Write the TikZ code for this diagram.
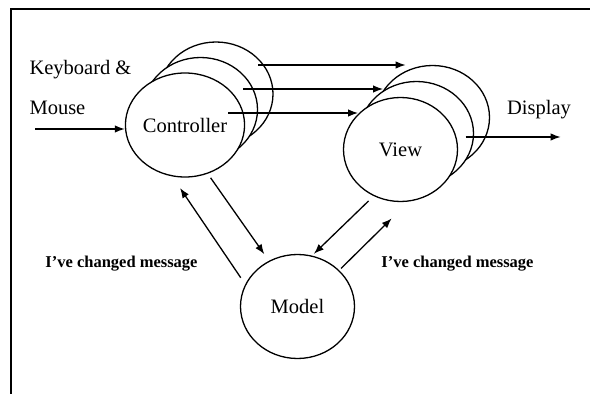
\documentclass[tikz,border=0pt]{standalone}
\usepackage{fontspec}
\setmainfont{Liberation Serif}
\usetikzlibrary{shapes.geometric}
\usetikzlibrary{arrows.meta}

\begin{document}
\begin{tikzpicture}[x=1pt,y=1pt,
  part/.style={ellipse,draw,line width=1.3pt,fill=white,minimum width=114pt,minimum height=104pt,inner sep=0pt},
  msg/.style={-{Latex[length=10pt,width=7.5pt]},line width=1.3pt},
  note/.style={font=\fontsize{16.5}{20}\selectfont\bfseries},
  every node/.style={font=\fontsize{20.5}{24}\selectfont}]

\useasboundingbox (0,0) rectangle (590,394);

\draw[line width=1.4pt] (11,0) -- (11,385) -- (590,385);

\node[part] (ctrl3) at (216,300) {};
\node[part] (ctrl2) at (200.5,284.5) {};
\node[part] (ctrl) at (185,269) {Controller};

\node[part] (view3) at (432.5,276.5) {};
\node[part] (view2) at (416.5,260.5) {};
\node[part] (view) at (400.5,244.5) {View};

\node[part] (model) at (297.5,87.5) {\raisebox{-5pt}{Model}};

\node[anchor=west] (keys) at (26,324) {Keyboard \&};
\node[anchor=west] (mouse) at (26,286) {Mouse};
\node (display) at (539,284) {Display};

\coordinate (input) at (35,265);
\draw[msg] (input) -- (input -| ctrl.west);

\coordinate (out1) at ([yshift=44.5pt]ctrl2.east);
\coordinate (out2) at ([shift={(-2pt,36pt)}]ctrl.east);
\coordinate (out3) at ([shift={(-17pt,12pt)}]ctrl.east);
\draw[msg] (out1) -- (out1 -| view3.120);
\draw[msg] (out2) -- (out2 -| view2.128);
\draw[msg] (out3) -- (out3 -| view.140);

\coordinate (screen) at ([shift={(-8.5pt,-3.5pt)}]view2.east);
\draw[msg] (screen) -- ++(95,0);

\draw[msg,shorten <=8pt,shorten >=14pt] (model.157) -- (ctrl.256);
\draw[msg,shorten <=5pt,shorten >=8pt] (ctrl.295) -- (model.122);
\draw[msg,shorten <=7pt,shorten >=2.5pt] (view.240) -- (model.74);
\draw[msg,shorten <=2.5pt,shorten >=24pt] (model.41) -- (view.279);

\node[note] (leftmsg) at (121.5,130) {I've changed message};
\node[note] (rightmsg) at (457.5,130) {I've changed message};

\end{tikzpicture}
\end{document}
